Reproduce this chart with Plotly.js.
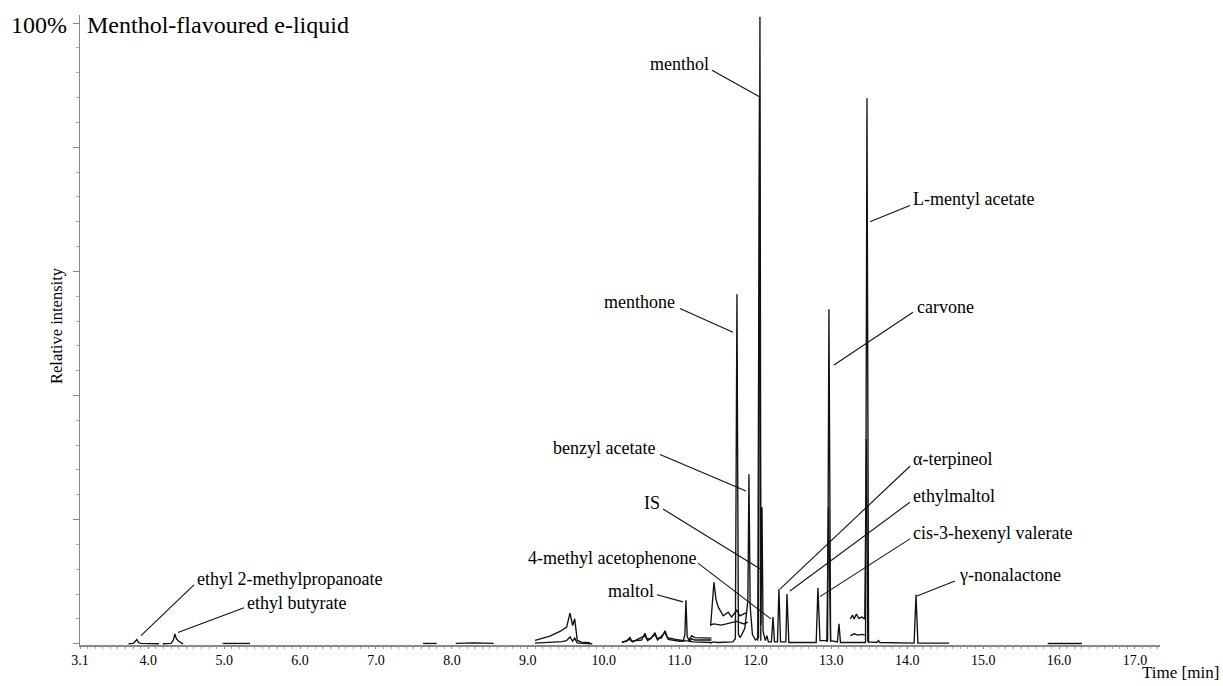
<!DOCTYPE html>
<html><head><meta charset="utf-8">
<script src="https://cdn.plot.ly/plotly-3.0.1.min.js"></script>
<style>html,body{margin:0;padding:0;background:#fff}#chart{width:1223px;height:686px}</style>
</head><body><div id="chart"></div>
<script>
// ---- Data (retention time in min, relative intensity in %) ----
const traceATime = [
 3.74, 3.80, 3.83, 3.85, 3.87, 3.90, 4.14, null,
 4.19, 4.30, 4.33, 4.35, 4.37, 4.40, 4.44, 4.46, null,
 4.98, 5.34, null,
 7.62, 7.80, null,
 8.05, 8.30, 8.55, null,
 9.095, 9.30, 9.45, 9.51, 9.556, 9.59, 9.618, 9.65, 9.72, 9.85, null,
 10.24, 10.30, 10.346, 10.37, 10.42, 10.50, 10.544, 10.57, 10.62, 10.676, 10.70, 10.76, 10.808, 10.84, 10.95, 11.05, 11.07, 11.084, 11.10, 11.13, 11.18, 11.30, 11.42, null,
 11.40, 11.45, 11.50, 11.70, 11.735, 11.756, 11.775, 11.80, 11.86, 11.90, 11.914, 11.93, 11.96, 12.00, 12.04, 12.059, 12.072, 12.086, 12.10, 12.13,
 12.15, 12.17, 12.21, 12.231, 12.25, 12.29, 12.309, 12.33, 12.40, 12.415, 12.44, 12.80, 12.823, 12.85, 12.95, 12.968, 12.99, 13.08, 13.10, 13.12,
 13.45, 13.469, 13.49, 13.60, 13.62, 13.64, 14.09, 14.115, 14.14, 14.55, null,
 15.85, 16.30
];
const traceAIntensity = [
 0, 0.05, 0.4, 0.7, 0.2, 0.05, 0, null,
 0, 0.05, 0.6, 1.6, 0.8, 0.4, 0.1, 0, null,
 0.05, 0.05, null,
 0.05, 0.05, null,
 0.05, 0.15, 0.05, null,
 0.1, 0.2, 0.35, 0.5, 1.1, 0.4, 0.9, 0.15, 0.05, 0, null,
 0.3, 0.4, 1.0, 0.4, 0.5, 0.6, 1.7, 0.8, 0.8, 1.8, 0.9, 0.9, 2.1, 1.0, 0.7, 0.5, 1.5, 7.0, 1.2, 0.4, 0.3, 0.2, 0.2, null,
 0.1, 0.3, 0.2, 0.3, 0.8, 56.3, 1.5, 1.0, 2.5, 7, 27.3, 6, 1.5, 0.6, 1.0, 101, 3, 22, 2, 0.5,
 1.3, 0.3, 0.3, 4.3, 0.3, 0.3, 8.8, 0.3, 0.3, 8.0, 0.2, 0.2, 9.0, 0.5, 0.5, 53.9, 0.5, 0.3, 3.2, 0.2,
 0.2, 87.9, 0.3, 0.2, 0.5, 0.2, 0.1, 7.9, 0.1, 0.1, null,
 0.05, 0.05
];
const traceBTime = [
 9.095, 9.292, 9.424, 9.512, 9.556, 9.591, 9.618, 9.652, 9.710, 9.819, null,
 10.24, 10.346, 10.38, 10.544, 10.58, 10.676, 10.71, 10.808, 10.85, 11.00, 11.12, 11.16, 11.20, 11.30, 11.42, null,
 11.409, 11.453, 11.479, 11.51, 11.575, 11.641, 11.686, 11.752, 11.795, 11.88, null,
 12.03, 12.052, 12.07, null,
 12.94, 12.962, 12.99, null,
 13.25, 13.28, 13.30, 13.33, 13.36, 13.40, 13.44, 13.462, 13.48, 13.50
];
const traceBIntensity = [
 0.53, 1.24, 1.98, 2.68, 4.94, 2.94, 4.02, 0.53, 0.27, 0.16, null,
 0.2, 0.7, 0.3, 1.3, 0.5, 1.5, 0.6, 1.8, 0.7, 0.4, 0.5, 1.3, 1.0, 1.0, 0.9, null,
 2.9, 9.9, 7.2, 5.9, 4.5, 5.1, 4.3, 5.4, 4.5, 5.0, null,
 0.5, 88, 0.5, null,
 0.3, 22, 0.3, null,
 4.0, 4.6, 4.0, 4.8, 4.1, 4.3, 4.0, 33, 0.4, 0.2
];
const traceCTime = [
 11.12, 11.16, 11.20, 11.30, 11.42, null,
 11.40, 11.45, 11.55, 11.65, 11.75, 11.85, 11.90, null,
 13.25, 13.30, 13.35, 13.40, 13.44
];
const traceCIntensity = [
 0.3, 0.8, 0.6, 0.6, 0.6, null,
 3.0, 3.2, 3.0, 3.3, 3.6, 3.2, 3.5, null,
 1.3, 1.6, 1.4, 1.5, 1.4
];

const xTickVals = [3.1, 4, 5, 6, 7, 8, 9, 10, 11, 12, 13, 14, 15, 16, 17];
const xTickText = ['3.1', '4.0', '5.0', '6.0', '7.0', '8.0', '9.0', '10.0', '11.0', '12.0', '13.0', '14.0', '15.0', '16.0', '17.0'];

// Compound labels: text, text position, anchor, leader line start / end
const labelText = ['menthol', 'L-mentyl acetate', 'menthone', 'carvone', 'benzyl acetate', 'IS',
  '4-methyl acetophenone', 'maltol', 'α-terpineol', 'ethylmaltol', 'cis-3-hexenyl valerate',
  'γ-nonalactone', 'ethyl 2-methylpropanoate', 'ethyl butyrate'];
const labelX = [11.40, 14.062, 10.952, 14.115, 10.689, 10.755, 11.229, 10.676, 14.062, 14.062, 14.062, 14.668, 4.628, 5.287];
const labelY = [93.4, 71.7, 55.0, 54.3, 31.5, 22.7, 13.8, 8.5, 29.7, 23.8, 17.8, 11.1, 10.5, 6.6];
const labelAnchor = ['right', 'left', 'right', 'left', 'right', 'right', 'right', 'right', 'left', 'left', 'left', 'left', 'left', 'left'];
const leaderX0 = [11.427, 14.035, 11.005, 14.075, 10.742, 10.781, 11.242, 10.702, 14.035, 14.035, 14.035, 14.628, 4.602, 5.261];
const leaderY0 = [92.4, 70.6, 54.0, 53.4, 30.5, 21.7, 13.0, 7.9, 28.6, 22.8, 16.9, 10.1, 9.5, 5.8];
const leaderX1 = [12.059, 13.508, 11.703, 13.034, 11.875, 12.059, 12.204, 11.045, 12.322, 12.454, 12.85, 14.128, 3.904, 4.391];
const leaderY1 = [88.1, 68.0, 50.2, 44.9, 24.6, 12.1, 4.0, 6.75, 8.8, 8.5, 7.6, 7.7, 1.3, 1.8];

// ---- Chart ----
const serif = 'Liberation Serif, Times New Roman, serif';
const lineStyle = {color: '#111', width: 1.35};
const traces = [
  {x: traceATime, y: traceAIntensity, type: 'scatter', mode: 'lines', line: lineStyle, connectgaps: false, hoverinfo: 'skip'},
  {x: traceBTime, y: traceBIntensity, type: 'scatter', mode: 'lines', line: lineStyle, connectgaps: false, hoverinfo: 'skip'},
  {x: traceCTime, y: traceCIntensity, type: 'scatter', mode: 'lines', line: lineStyle, connectgaps: false, hoverinfo: 'skip'}
];

const annotations = labelText.map((t, i) => ({
  text: t, x: labelX[i], y: labelY[i], xref: 'x', yref: 'y',
  xanchor: labelAnchor[i], yanchor: 'middle', showarrow: false, borderpad: 0,
  font: {family: serif, size: 18, color: '#000'}
}));
annotations.push(
  {text: '100%', xref: 'paper', yref: 'paper', x: -0.0111, y: 0.984, xanchor: 'right', yanchor: 'middle', showarrow: false, borderpad: 0, font: {family: serif, size: 24, color: '#000'}},
  {text: 'Menthol-flavoured e-liquid', xref: 'paper', yref: 'paper', x: 0.006, y: 0.984, xanchor: 'left', yanchor: 'middle', showarrow: false, borderpad: 0, font: {family: serif, size: 24, color: '#000'}},
  {text: 'Relative intensity', xref: 'paper', yref: 'paper', x: -0.0213, y: 0.508, xanchor: 'center', yanchor: 'middle', textangle: -90, showarrow: false, font: {family: serif, size: 16.5, color: '#000'}},
  {text: 'Time [min]', xref: 'paper', yref: 'paper', x: 1.0556, y: -0.0603, xanchor: 'right', yanchor: 'bottom', showarrow: false, borderpad: 0, font: {family: serif, size: 17, color: '#000'}}
);

const shapes = labelText.map((t, i) => ({
  type: 'line', xref: 'x', yref: 'y',
  x0: leaderX0[i], y0: leaderY0[i], x1: leaderX1[i], y1: leaderY1[i],
  line: {color: '#111', width: 1.1}
}));

const layout = {
  width: 1223, height: 686,
  margin: {l: 80, r: 63, t: 15, b: 41},
  paper_bgcolor: '#fff', plot_bgcolor: '#fff',
  showlegend: false,
  xaxis: {
    range: [3.1, 17.33], tickmode: 'array', tickvals: xTickVals, ticktext: xTickText,
    ticks: 'outside', ticklen: 2, tickcolor: '#888', tickwidth: 1,
    showline: true, linecolor: '#888', linewidth: 1.5, showgrid: false, zeroline: false,
    tickfont: {family: serif, size: 14, color: '#000'}, layer: 'below traces',
    minor: {tickmode: 'linear', tick0: 3.1, dtick: 0.1, ticklen: 2, ticks: 'outside', tickcolor: '#aaa', showgrid: false}
  },
  yaxis: {
    range: [-0.2, 101.3], tickmode: 'array', tickvals: [0, 20, 40, 60, 80, 100], showticklabels: false,
    ticks: 'outside', ticklen: 6, tickcolor: '#888', tickwidth: 1,
    showline: true, linecolor: '#888', linewidth: 1.5, showgrid: false, zeroline: false, layer: 'below traces',
    minor: {tickmode: 'linear', tick0: 0, dtick: 4, ticklen: 3, ticks: 'outside', tickcolor: '#aaa', showgrid: false}
  },
  annotations: annotations,
  shapes: shapes
};

Plotly.newPlot('chart', traces, layout, {staticPlot: true, displayModeBar: false});
</script></body></html>
